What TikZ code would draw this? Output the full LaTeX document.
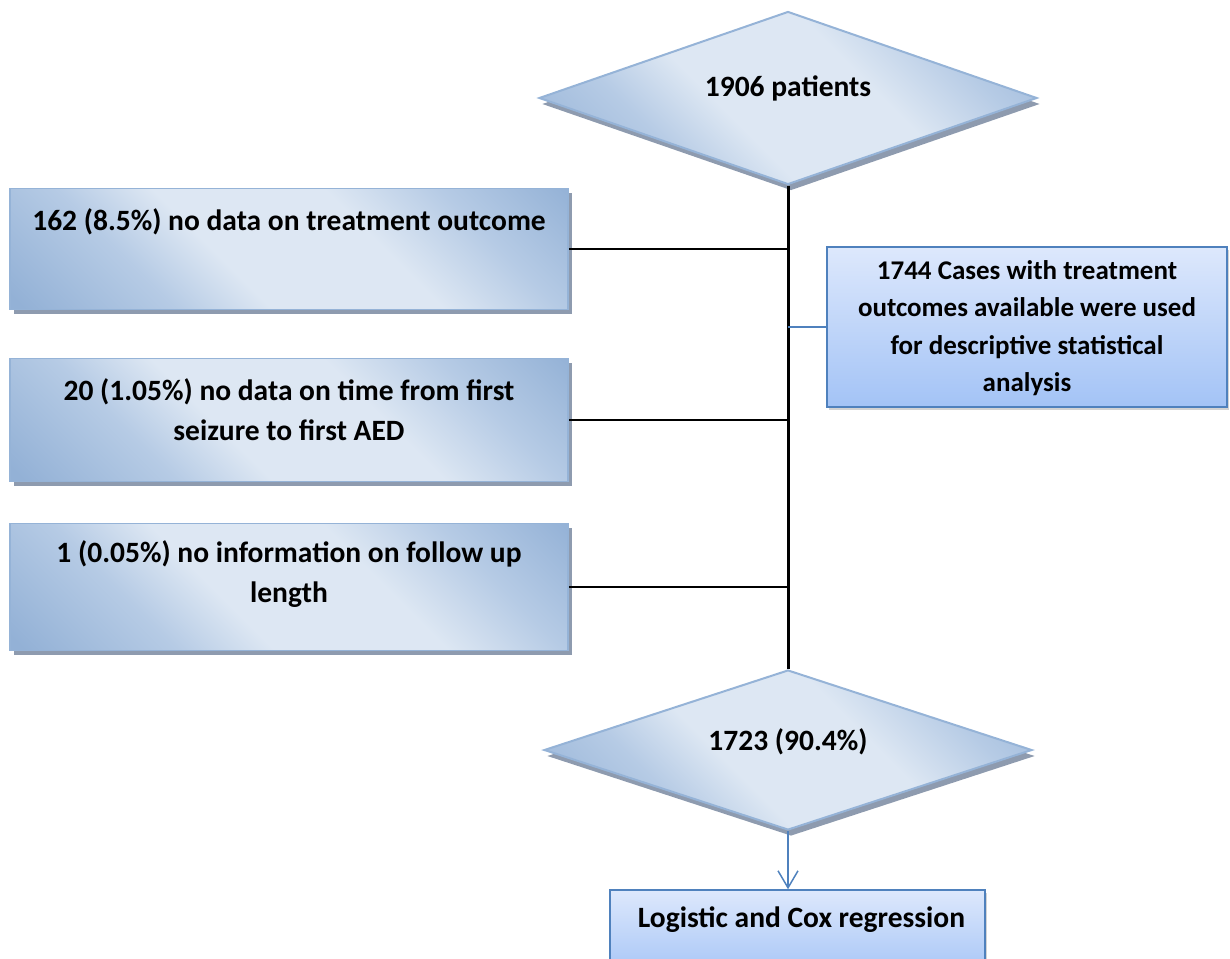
\documentclass[tikz,border=0pt]{standalone}
\usepackage{fontspec}
\setmainfont{Carlito}
\usetikzlibrary{shapes.geometric,shadows,arrows.meta}
\definecolor{lbdark}{HTML}{93B1D6}
\definecolor{lbmid}{HTML}{B6CBE5}
\definecolor{lblight}{HTML}{DDE7F3}
\definecolor{lbedge}{HTML}{95B3D7}
\definecolor{shgray}{HTML}{8E9BAF}
\definecolor{bbtop}{HTML}{DDE8FC}
\definecolor{bbbot}{HTML}{A3C3F6}
\definecolor{bbedge}{HTML}{4F81BD}
\pgfdeclareverticalshading{softshade}{100bp}{color(0bp)=(lbdark); color(16bp)=(lbdark); color(32bp)=(lbmid); color(42bp)=(lblight); color(60bp)=(lblight); color(72bp)=(lbmid); color(86bp)=(lbdark); color(100bp)=(lbdark)}
\begin{document}
\begin{tikzpicture}[x=1pt,y=-1pt,
  txt/.style={font=\fontsize{29.5}{40}\selectfont\bfseries, align=center, inner sep=0pt, text=black},
  smalltxt/.style={txt, font=\fontsize{27}{37.5}\selectfont\bfseries},
  softbox/.style={rectangle, draw=lbedge, line width=1.8pt,
    shading=softshade, shading angle=-45,
    general shadow={shadow xshift=4pt,shadow yshift=-4pt,fill=shgray},
    inner sep=0pt},
  softdia/.style={diamond, draw=lbedge, line width=2pt,
    shading=softshade, shading angle=-45,
    general shadow={shadow xshift=3pt,shadow yshift=-6pt,fill=shgray},
    inner sep=0pt},
  bluebox/.style={rectangle, draw=bbedge, line width=1.5pt,
    top color=bbtop, bottom color=bbbot,
    drop shadow={shadow xshift=2pt,shadow yshift=-3pt,opacity=0.35},
    inner sep=0pt},
  trunk/.style={line width=3pt, black},
  branch/.style={line width=2.4pt, black},
  bluelink/.style={line width=1.5pt, bbedge},
]
\useasboundingbox (0,0) rectangle (1230,958);

\node[softdia, minimum width=498pt, minimum height=173pt,
  label={[txt,yshift=10pt]center:1906 patients}] (d1) at (788,98) {};

\node[softbox, minimum width=558pt, minimum height=121pt,
  label={[txt,yshift=27pt]center:162 (8.5\%) no data on treatment outcome}] (b1) at (289,249) {};
\node[softbox, minimum width=558pt, minimum height=123pt,
  label={[txt,yshift=10pt]center:20 (1.05\%) no data on time from first\\seizure to first AED}] (b2) at (289,420) {};
\node[softbox, minimum width=558pt, minimum height=127pt,
  label={[txt,yshift=13pt]center:1 (0.05\%) no information on follow up\\length}] (b3) at (289,587) {};

\node[bluebox, minimum width=400pt, minimum height=160pt,
  label={[smalltxt,yshift=-1pt]center:1744 Cases with treatment\\outcomes available were used\\for descriptive statistical\\analysis}] (r) at (1027,327) {};

\node[softdia, minimum width=488pt, minimum height=160pt,
  label={[txt,yshift=8pt]center:1723 (90.4\%)}] (d2) at (788,750) {};

\node[bluebox, minimum width=375pt, minimum height=90pt,
  label={[txt,yshift=15pt,xshift=4pt]center:Logistic and Cox regression}] (f) at (797.5,935) {};

\draw[trunk] (d1.south) -- (d2.north);
\draw[branch] (b1.east) -- (b1.east -| d1.south);
\draw[branch] (b2.east) -- (b2.east -| d1.south);
\draw[branch] (b3.east) -- (b3.east -| d1.south);
\draw[bluelink] (r.west -| d1.south) -- (r.west);
\draw[bluelink, -{Straight Barb[length=17pt,width=20pt]}] (d2.south) -- (d2.south |- f.north);
\end{tikzpicture}
\end{document}
